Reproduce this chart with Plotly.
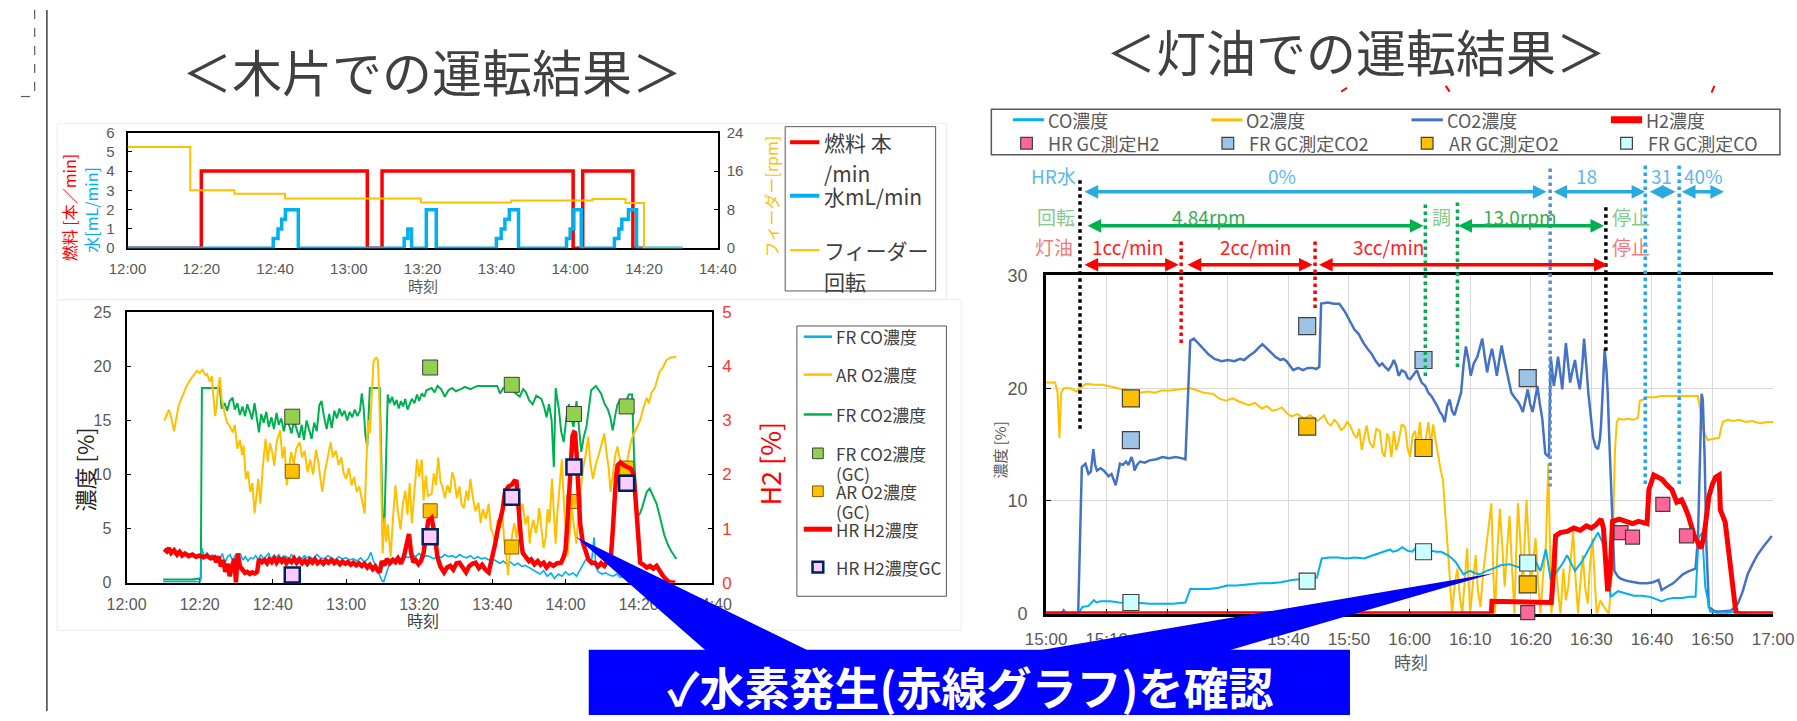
import plotly.graph_objects as go

W, H = 1797, 721


def px(x):
    """pixel column -> paper x"""
    return x / W


def py(y):
    """pixel row -> paper y"""
    return 1 - y / H


# ---------------- wood-chip run (minutes after 12:00) ----------------
wood_tickvals = [0, 20, 40, 60, 80, 100, 120, 140, 160]
wood_ticklabels = ["12:00", "12:20", "12:40", "13:00", "13:20", "13:40", "14:00", "14:20", "14:40"]

# step series of the feed panel (value holds until next time)
fuel_t = [0, 20, 65, 69, 120.8, 123.4, 137, 140]
fuel_v = [0, 4, 0, 4, 0, 4, 0, 0]
water_t = [0, 39.5, 40.8, 41.8, 42.8, 46.3, 75.0, 76.0, 77.0, 81.0, 83.7, 100.0, 101.3, 102.3,
           103.5, 106.0, 119.0, 120.0, 121.0, 123.0, 132.0, 133.2, 134.0, 135.8, 138.0, 150.5]
water_v = [0, 0.5, 1.0, 1.5, 2.0, 0, 0.5, 1.0, 0, 2.0, 0, 0.5, 1.0, 1.5,
           2.0, 0, 0.5, 1.0, 2.0, 0, 0.5, 1.0, 1.5, 2.0, 0, 0]
feeder_t = [0, 17, 29, 42.7, 79.5, 104, 126, 135, 140, 150.5]
feeder_v = [21, 12, 11.3, 10.3, 9.5, 9.9, 10.2, 9.4, 0, 0]

# gas concentrations [%] (H2 on the right axis)
wood_co = [(10, 0.1), (20.2, 0.1), (20.6, 3.2), (21.3, 2.3), (22.0, 2.8), (22.7, 2.1), (23.4, 2.6), (24.1, 1.9),
           (24.8, 2.5), (25.5, 2.2), (26.2, 2.7), (26.9, 1.8), (27.6, 2.4), (28.3, 2.6), (29.0, 2.0), (29.7, 2.5),
           (30.4, 2.3), (31.1, 2.7), (31.8, 2.1), (32.5, 2.4), (33.2, 2.0), (33.9, 2.3), (34.6, 2.2), (35.3, 2.5),
           (36.0, 2.1), (36.7, 2.6), (37.4, 2.2), (38.1, 2.4), (38.8, 2.7), (39.5, 2.2), (40.2, 2.5), (40.9, 2.3),
           (41.6, 2.6), (42.3, 2.2), (43.0, 2.5), (43.7, 2.4), (44.4, 2.2), (45.1, 2.6), (45.8, 2.3), (46.5, 2.1),
           (47.2, 2.4), (47.9, 2.2), (48.6, 2.5), (49.3, 2.3), (50.0, 2.4), (51.0, 2.2), (52.0, 2.6), (53.0, 2.3),
           (54.0, 2.2), (55.0, 2.5), (56.0, 2.3), (57.0, 2.1), (58.0, 2.4), (59.0, 2.2), (60.0, 2.3), (61.0, 2.1),
           (62.0, 2.2), (63.0, 2.0), (64.0, 2.3), (65.0, 1.9), (66.0, 2.2), (66.8, 2.8), (67.5, 2.0), (68.3, 1.4),
           (69.0, 0.8), (69.8, 0.2), (70.3, 0.1), (71.0, 0.9), (71.6, 1.6), (72.3, 2.2), (73.0, 2.0), (74.0, 2.4),
           (75.0, 2.2), (76.0, 2.5), (77.0, 2.3), (78.0, 2.6), (79.0, 2.4), (80.0, 2.7), (81.0, 2.3), (82.0, 2.5),
           (83.0, 2.4), (84.0, 2.2), (85.0, 2.5), (86.0, 2.3), (87.0, 2.6), (88.0, 2.4), (89.0, 2.5), (90.0, 2.3),
           (91.0, 2.6), (92.0, 2.4), (93.0, 2.3), (94.0, 2.5), (95.0, 2.2), (96.0, 2.4), (97.0, 2.2), (98.0, 2.3),
           (99.0, 2.1), (100.0, 2.2), (101.0, 2.0), (102.0, 1.8), (103.0, 2.0), (104.0, 1.7), (105.0, 1.9),
           (106.0, 1.6), (107.0, 1.8), (108.0, 1.5), (109.0, 1.6), (110.0, 1.4), (111.0, 1.2), (112.0, 1.0),
           (113.0, 0.8), (114.0, 1.1), (115.0, 0.6), (116.0, 0.9), (117.0, 0.4), (118.0, 0.8), (119.0, 0.6),
           (120.0, 1.0), (121.0, 0.7), (122.0, 0.9), (123.0, 0.6), (124.0, 1.2), (125.0, 1.8), (126.0, 2.4),
           (127.0, 1.6), (127.8, 4.2), (128.3, 1.4), (129.0, 1.0), (130.0, 0.8), (131.0, 0.9), (132.0, 0.7),
           (133.0, 0.6), (134.0, 0.8), (135.0, 0.5), (136.0, 0.6)]

wood_o2 = [(10.3, 15.0), (11.0, 15.6), (11.6, 16.0), (12.2, 15.3), (13.0, 14.0), (13.6, 15.2), (14.2, 16.3),
           (14.7, 16.8), (15.5, 17.5), (16.6, 18.3), (17.5, 18.8), (18.5, 19.2), (19.3, 19.6), (20.0, 19.4),
           (20.8, 19.7), (21.5, 19.2), (22.0, 19.3), (22.8, 18.6), (23.3, 19.1), (23.7, 17.4), (24.2, 15.4),
           (24.6, 16.2), (25.0, 18.0), (25.5, 19.0), (26.0, 17.0), (26.8, 15.7), (27.5, 14.8), (28.2, 14.5),
           (29.0, 13.9), (29.6, 14.6), (30.3, 12.4), (31.0, 13.2), (31.6, 11.8), (32.0, 12.7), (32.6, 9.6),
           (33.2, 10.3), (33.8, 8.4), (34.4, 9.2), (35.0, 6.4), (35.5, 8.0), (36.0, 9.6), (36.6, 7.3),
           (37.2, 10.5), (38.0, 13.3), (38.6, 11.2), (39.2, 12.9), (39.8, 12.1), (40.4, 10.8), (41.0, 13.0),
           (42.0, 14.1), (42.6, 11.5), (43.2, 12.6), (43.8, 9.0), (44.4, 10.6), (45.0, 12.1), (45.7, 11.0),
           (46.4, 12.4), (47.3, 13.0), (48.0, 11.6), (48.7, 12.2), (49.5, 10.2), (50.2, 11.4), (51.0, 10.0),
           (51.8, 12.3), (52.5, 11.0), (53.0, 9.6), (53.5, 8.4), (54.2, 10.2), (55.0, 11.8), (55.8, 13.0),
           (56.4, 11.6), (57.2, 12.2), (58.0, 10.9), (58.7, 11.6), (59.3, 10.2), (60.0, 9.6), (60.8, 10.6),
           (61.5, 9.0), (62.2, 9.8), (62.9, 8.4), (63.6, 8.9), (64.3, 7.6), (65.1, 6.4), (65.5, 10.5),
           (66.0, 15.0), (66.5, 13.8), (67.0, 17.0), (67.5, 20.4), (67.8, 20.7), (68.3, 20.8), (68.7, 20.6),
           (69.1, 17.0), (69.5, 11.4), (70.0, 2.7), (70.5, 6.0), (71.0, 3.8), (71.4, 5.4), (71.8, 4.0),
           (72.2, 2.4), (72.8, 5.8), (73.5, 9.0), (74.2, 6.5), (74.9, 4.9), (75.5, 7.2), (76.2, 8.5),
           (76.8, 6.3), (77.4, 9.2), (78.0, 5.5), (78.7, 8.8), (79.4, 11.4), (80.0, 9.8), (80.7, 11.4),
           (81.2, 7.6), (81.8, 9.9), (82.4, 8.0), (83.4, 8.2), (84.0, 10.1), (84.6, 9.0), (85.2, 11.6),
           (85.8, 9.4), (86.4, 8.8), (87.0, 7.8), (87.7, 9.0), (88.4, 8.3), (89.0, 10.2), (89.6, 9.6),
           (90.3, 7.8), (91.0, 8.9), (91.6, 7.2), (92.2, 6.9), (92.9, 8.5), (93.4, 7.6), (94.0, 9.6),
           (94.7, 7.8), (95.4, 6.6), (96.2, 7.4), (96.8, 5.5), (97.4, 6.8), (98.2, 5.9), (99.0, 7.3),
           (99.6, 5.0), (100.2, 4.5), (100.8, 3.6), (101.4, 5.8), (102.0, 5.2), (102.6, 6.9), (103.2, 4.0),
           (103.8, 2.6), (104.3, 0.7), (104.9, 3.2), (105.5, 4.6), (106.0, 5.5), (106.6, 4.1), (107.3, 6.5),
           (108.3, 7.3), (109.0, 5.4), (109.7, 6.2), (110.2, 3.6), (110.6, 4.9), (111.2, 5.8), (111.9, 4.6),
           (112.4, 5.5), (112.8, 6.9), (113.4, 5.2), (114.0, 3.2), (114.6, 4.2), (115.1, 6.8), (115.6, 5.5),
           (116.3, 9.6), (116.9, 6.0), (117.3, 3.6), (117.8, 6.6), (118.4, 8.9), (119.0, 11.4), (119.6, 7.0),
           (120.0, 4.5), (120.5, 2.4), (121.1, 4.5), (121.7, 6.9), (122.3, 5.2), (123.0, 3.6), (123.6, 6.9),
           (124.3, 9.2), (124.9, 10.8), (125.5, 11.8), (126.2, 13.5), (126.8, 11.0), (127.5, 9.6),
           (128.1, 10.7), (128.7, 11.3), (129.3, 12.1), (130.0, 13.0), (130.6, 13.8), (131.2, 12.0),
           (131.8, 10.6), (132.3, 8.4), (132.9, 10.2), (133.6, 11.8), (134.2, 12.6), (134.8, 11.5),
           (135.4, 10.8), (136.0, 9.6), (136.7, 11.0), (137.3, 12.1), (138.0, 13.2), (138.7, 13.8),
           (139.5, 14.4), (140.4, 15.0), (141.3, 16.2), (142.2, 17.1), (142.8, 16.6), (143.5, 17.6),
           (144.4, 18.0), (145.0, 18.8), (145.7, 19.5), (146.6, 19.9), (147.6, 20.6), (148.6, 20.8),
           (150.3, 20.9)]

wood_co2 = [(10, 0.3), (18, 0.3), (20.3, 0.4), (20.6, 18.0), (25.5, 18.0), (26.0, 16.1), (26.8, 16.6),
            (27.5, 15.9), (28.2, 16.8), (29.0, 17.1), (29.6, 16.0), (30.3, 16.6), (31.0, 15.5), (31.7, 16.3),
            (32.4, 15.4), (33.0, 16.5), (33.7, 15.8), (34.3, 15.1), (35.0, 16.6), (35.6, 15.3), (36.2, 13.9),
            (36.8, 15.6), (37.5, 14.8), (38.2, 15.8), (38.9, 14.4), (39.6, 15.3), (40.3, 14.2), (41.0, 15.7),
            (41.6, 14.6), (42.3, 15.2), (43.0, 14.0), (43.7, 15.1), (44.4, 14.6), (45.1, 13.8), (45.8, 15.0),
            (46.5, 14.2), (47.2, 13.4), (47.9, 14.6), (48.5, 13.2), (49.2, 15.0), (49.9, 14.1), (50.6, 13.3),
            (51.3, 14.8), (52.0, 14.0), (52.7, 16.4), (53.3, 16.8), (54.0, 15.3), (54.7, 14.2), (55.4, 15.6),
            (56.1, 14.3), (56.8, 15.9), (57.5, 15.2), (58.2, 16.1), (58.9, 15.4), (59.6, 15.9), (60.3, 15.0),
            (61.0, 15.8), (61.7, 15.3), (62.4, 16.0), (63.1, 15.4), (63.8, 15.9), (64.3, 17.5), (64.8, 16.2),
            (65.3, 13.6), (65.8, 12.6), (66.2, 15.8), (66.5, 18.0), (69.2, 18.0), (69.6, 12.0), (70.0, 6.1),
            (70.5, 5.5), (71.0, 12.0), (71.4, 17.4), (72.0, 16.6), (72.6, 17.2), (73.2, 16.4), (73.8, 16.9),
            (74.4, 16.1), (75.0, 16.8), (75.6, 16.3), (76.2, 17.0), (76.8, 16.0), (77.4, 16.6), (78.0, 17.0),
            (78.7, 16.6), (79.4, 17.4), (80.0, 16.8), (80.7, 17.5), (81.4, 17.2), (82.0, 17.8), (83.4, 18.0),
            (84.2, 17.6), (85.0, 18.2), (86.0, 17.9), (87.0, 17.2), (88.0, 17.8), (89.0, 18.0), (90.0, 17.7),
            (91.4, 17.9), (92.5, 18.1), (94.0, 17.9), (95.9, 18.2), (98.0, 18.2), (100.0, 18.2), (101.3, 18.2),
            (102.1, 17.5), (103.0, 18.0), (104.8, 18.3), (106.0, 17.6), (107.5, 17.2), (108.4, 17.9),
            (109.2, 17.6), (110.0, 16.9), (111.0, 16.5), (112.0, 17.3), (113.4, 17.0), (114.2, 16.2),
            (114.8, 15.3), (115.5, 16.5), (116.2, 15.0), (116.8, 10.7), (117.3, 18.0), (118.2, 16.0),
            (118.8, 14.0), (119.5, 13.0), (120.2, 15.2), (120.9, 16.5), (121.5, 15.3), (122.2, 14.4),
            (123.0, 16.8), (123.6, 14.5), (124.3, 12.1), (125.0, 13.5), (125.7, 14.4), (126.4, 16.2),
            (127.0, 17.8), (128.3, 18.2), (129.0, 17.9), (129.7, 17.5), (130.6, 16.6), (131.6, 16.0),
            (132.3, 15.2), (132.9, 14.1), (133.6, 15.5), (134.2, 16.5), (135.0, 16.9), (136.0, 16.2),
            (136.8, 17.0), (137.3, 17.4), (138.2, 17.4), (138.7, 12.0), (139.6, 6.1), (140.2, 6.3),
            (140.9, 6.9), (141.6, 7.8), (142.2, 8.4), (143.0, 8.7), (144.0, 8.0), (144.9, 7.3), (146.0, 5.8),
            (147.0, 4.4), (148.0, 3.5), (148.9, 2.9), (150.3, 2.2)]

wood_h2 = [(10.3, 0.62), (11.0, 0.58), (11.6, 0.64), (12.2, 0.55), (13.0, 0.60), (13.8, 0.52), (14.5, 0.57),
           (15.2, 0.50), (16.0, 0.54), (17.0, 0.49), (18.0, 0.52), (19.0, 0.48), (20.0, 0.50), (21.0, 0.47),
           (22.0, 0.50), (23.0, 0.45), (24.0, 0.47), (24.6, 0.38), (25.2, 0.48), (25.8, 0.30), (26.4, 0.42),
           (27.0, 0.20), (27.6, 0.35), (28.2, 0.12), (28.8, 0.30), (29.5, 0.44), (29.9, 0.00), (30.4, 0.54),
           (31.0, 0.30), (31.7, 0.22), (32.4, 0.18), (33.0, 0.20), (33.7, 0.16), (34.4, 0.19), (35.1, 0.17),
           (35.7, 0.20), (36.2, 0.43), (37.0, 0.38), (37.7, 0.42), (38.4, 0.36), (39.0, 0.43), (39.7, 0.38),
           (40.4, 0.45), (41.0, 0.37), (41.7, 0.44), (42.4, 0.39), (43.0, 0.46), (43.7, 0.36), (44.4, 0.42),
           (45.1, 0.38), (45.8, 0.45), (46.5, 0.37), (47.2, 0.43), (48.0, 0.36), (48.7, 0.41), (49.4, 0.35),
           (50.1, 0.42), (50.8, 0.37), (51.5, 0.43), (52.2, 0.36), (53.0, 0.40), (53.8, 0.35), (54.5, 0.41),
           (55.2, 0.37), (56.0, 0.42), (56.8, 0.36), (57.5, 0.40), (58.3, 0.34), (59.0, 0.39), (59.8, 0.35),
           (60.5, 0.38), (61.3, 0.33), (62.0, 0.37), (62.8, 0.32), (63.5, 0.36), (64.3, 0.31), (65.0, 0.35),
           (65.8, 0.28), (66.5, 0.33), (67.3, 0.25), (68.0, 0.30), (68.7, 0.22), (69.2, 0.19), (69.8, 0.40),
           (70.5, 0.32), (71.2, 0.44), (72.0, 0.36), (72.8, 0.42), (73.5, 0.38), (74.2, 0.45), (75.0, 0.35),
           (75.8, 0.48), (76.5, 0.70), (77.2, 0.90), (77.8, 0.55), (78.4, 0.38), (79.0, 0.42), (79.8, 0.34),
           (80.5, 0.40), (81.2, 0.55), (81.8, 0.85), (82.5, 1.15), (83.4, 1.20), (84.2, 0.90), (85.0, 0.47),
           (85.8, 0.30), (86.8, 0.19), (87.6, 0.28), (88.5, 0.31), (89.3, 0.24), (90.2, 0.36), (91.0, 0.37),
           (91.9, 0.28), (92.8, 0.19), (93.6, 0.30), (94.5, 0.35), (95.4, 0.37), (96.3, 0.27), (97.2, 0.33),
           (98.1, 0.24), (99.0, 0.19), (99.8, 0.40), (100.8, 0.73), (101.4, 0.95), (102.0, 1.09), (102.8, 1.35),
           (103.5, 1.69), (104.4, 1.78), (105.3, 1.81), (106.0, 1.88), (106.6, 1.87), (107.0, 1.50),
           (107.4, 1.09), (107.9, 0.75), (108.3, 0.55), (109.2, 0.47), (110.0, 0.40), (110.6, 0.43),
           (111.5, 0.34), (112.4, 0.40), (113.2, 0.33), (114.0, 0.37), (114.8, 0.28), (115.7, 0.35),
           (116.7, 0.31), (117.7, 0.36), (118.8, 0.37), (119.5, 0.48), (120.0, 0.61), (120.5, 1.10),
           (121.0, 1.69), (121.5, 2.30), (121.9, 2.71), (122.3, 2.78), (122.6, 2.77), (123.0, 2.40),
           (123.2, 2.17), (123.6, 1.60), (124.0, 1.09), (124.7, 0.75), (125.5, 0.55), (126.3, 0.42),
           (127.2, 0.37), (128.0, 0.37), (128.9, 0.30), (129.7, 0.36), (130.6, 0.31), (131.5, 0.40),
           (132.4, 0.49), (132.9, 0.95), (133.3, 1.57), (133.8, 1.95), (134.2, 2.17), (135.0, 2.22),
           (136.0, 2.17), (136.9, 2.14), (137.8, 2.11), (138.3, 2.05), (138.7, 1.93), (139.2, 1.50),
           (139.6, 1.09), (140.0, 0.60), (140.4, 0.37), (141.3, 0.33), (142.2, 0.28), (143.1, 0.31),
           (144.0, 0.26), (144.9, 0.31), (145.8, 0.20), (146.6, 0.13), (147.5, 0.06), (148.4, 0.01),
           (150.0, 0.0)]

# GC samples
wood_gc_t = [45.3, 83.0, 105.3, 122.3, 136.7]
wood_gc_co2 = [15.35, 19.9, 18.3, 15.6, 16.3]
wood_gc_o2 = [10.3, 6.65, 3.3, 7.5, 10.6]
wood_gc_h2 = [0.14, 0.85, 1.58, 2.14, 1.84]

# ---------------- kerosene run (minutes after 15:00) ----------------
kero_tickvals = [0, 10, 20, 30, 40, 50, 60, 70, 80, 90, 100, 110, 120]
kero_ticklabels = ["15:00", "15:10", "15:20", "15:30", "15:40", "15:50", "16:00",
                   "16:10", "16:20", "16:30", "16:40", "16:50", "17:00"]

kero_co = [(0, 0), (5.3, 0), (6.0, 0.6), (7.0, 0.7), (7.9, 1.2), (8.3, 1.0), (9.0, 1.1), (10.6, 1.1),
           (12.0, 1.0), (13.9, 1.0), (15.5, 0.95), (17.1, 0.9), (19.0, 0.9), (21.0, 0.9), (23.0, 1.0),
           (23.8, 2.2), (25.0, 2.2), (26.8, 2.2), (28.5, 2.3), (29.9, 2.5), (31.5, 2.5), (33.5, 2.6),
           (35.3, 2.7), (37.0, 2.7), (38.8, 2.8), (40.6, 3.0), (42.5, 3.1), (44.7, 3.2), (45.5, 4.9),
           (46.8, 5.0), (48.2, 5.0), (49.5, 4.9), (51.0, 5.0), (52.5, 4.9), (53.5, 5.1), (54.6, 5.3),
           (55.7, 5.5), (56.8, 5.7), (57.2, 5.5), (58.0, 5.6), (58.8, 5.9), (59.6, 5.6), (60.4, 5.5),
           (61.0, 5.8), (61.7, 5.7), (62.5, 5.5), (63.5, 5.6), (64.4, 5.5), (65.2, 5.5), (66.3, 5.2),
           (67.0, 4.9), (67.6, 4.6), (68.3, 4.0), (68.9, 3.5), (69.5, 3.7), (70.0, 3.8), (70.8, 3.6),
           (71.6, 3.5), (72.7, 3.8), (73.8, 4.0), (75.0, 4.3), (76.5, 4.4), (77.6, 4.2), (78.7, 4.0),
           (79.5, 4.5), (80.3, 5.2), (80.8, 4.6), (81.6, 3.8), (82.5, 5.7), (83.3, 3.0), (84.4, 3.8),
           (85.2, 4.4), (86.0, 5.2), (86.6, 4.5), (87.3, 3.8), (88.4, 4.6), (89.5, 5.7), (90.3, 6.4),
           (91.1, 7.2), (91.7, 6.5), (92.2, 5.7), (92.7, 3.5), (93.2, 1.5), (94.4, 2.0), (95.7, 1.8),
           (97.0, 1.6), (98.3, 1.6), (99.7, 1.5), (100.7, 1.3), (101.6, 1.1), (102.5, 1.3), (103.5, 1.4),
           (105.0, 1.4), (106.2, 1.5), (107.2, 1.5), (107.7, 6.7), (108.3, 7.2), (108.8, 2.4), (109.6, 0.2),
           (111.5, 0.0), (114.2, 0.2), (115.5, 0.0)]

kero_o2 = [(0, 20.5), (1.5, 20.5), (1.9, 19.6), (2.2, 15.6), (2.5, 19.6), (2.9, 20.0), (4.0, 20.0), (5.0, 19.7),
           (5.6, 20.0), (6.6, 20.4), (8.0, 20.3), (9.3, 20.3), (11.0, 20.1), (12.5, 19.9), (14.0, 19.8),
           (15.5, 19.6), (16.8, 19.7), (18.0, 19.6), (19.0, 19.8), (20.5, 19.8), (22.2, 19.9), (23.9, 20.0),
           (25.0, 19.8), (26.0, 19.6), (27.6, 19.5), (28.5, 19.1), (29.7, 18.9), (30.8, 19.1), (31.9, 18.8),
           (33.5, 18.5), (34.5, 18.7), (35.6, 18.2), (36.5, 18.4), (37.3, 18.0), (38.2, 18.1), (38.9, 18.3),
           (39.7, 17.8), (40.5, 17.5), (41.5, 17.7), (42.6, 17.3), (43.6, 17.6), (44.8, 17.1), (45.9, 17.6),
           (46.5, 16.9), (47.0, 16.7), (47.6, 17.2), (48.1, 16.9), (48.7, 16.3), (49.2, 16.5), (49.7, 17.0),
           (50.2, 16.7), (50.8, 15.9), (51.3, 15.6), (51.7, 16.4), (52.1, 14.5), (52.5, 15.8), (52.9, 16.7),
           (53.4, 15.2), (54.0, 14.7), (54.5, 16.4), (55.1, 16.2), (55.5, 14.3), (55.9, 13.9), (56.3, 16.0),
           (56.6, 15.6), (57.0, 13.9), (57.4, 16.2), (57.8, 14.5), (58.2, 15.3), (58.7, 16.8), (59.3, 16.5),
           (59.7, 14.6), (60.1, 13.9), (60.5, 15.8), (60.9, 16.2), (61.3, 14.8), (61.7, 17.0), (62.0, 15.2),
           (62.3, 13.9), (62.7, 15.6), (63.1, 17.0), (63.5, 15.0), (63.9, 16.8), (64.3, 15.4), (64.7, 13.9),
           (65.1, 12.8), (65.5, 11.9), (65.8, 9.8), (66.1, 7.5), (66.4, 5.2), (66.6, 3.5), (67.0, 0.0),
           (67.5, 2.8), (67.9, 4.0), (68.3, 1.5), (68.7, 0.0), (69.1, 3.2), (69.5, 5.8), (70.0, 0.0),
           (70.5, 2.6), (70.9, 5.2), (71.3, 2.0), (71.7, 0.6), (72.1, 3.4), (72.5, 5.2), (73.0, 7.8),
           (73.5, 9.8), (73.8, 4.0), (74.1, 0.0), (74.5, 5.6), (74.9, 9.3), (75.3, 6.0), (75.7, 2.4),
           (76.1, 5.8), (76.5, 8.7), (76.9, 4.2), (77.3, 0.0), (77.6, 5.5), (77.9, 9.8), (78.3, 6.2),
           (78.7, 1.8), (79.0, 6.5), (79.3, 10.1), (79.7, 6.0), (80.0, 2.4), (80.4, 4.6), (80.8, 6.7),
           (81.2, 3.0), (81.6, 0.0), (82.0, 3.2), (82.5, 6.1), (82.9, 13.3), (83.2, 6.0), (83.4, 0.0),
           (83.8, 2.6), (84.1, 5.2), (84.5, 2.0), (84.9, 0.0), (85.4, 4.0), (85.8, 1.2), (86.2, 2.4),
           (86.6, 5.0), (87.0, 7.3), (87.4, 3.1), (87.8, 0.0), (88.2, 2.8), (88.6, 5.2), (89.0, 2.2),
           (89.4, 0.9), (89.8, 4.5), (90.2, 6.7), (90.6, 2.6), (90.9, 0.0), (91.5, 1.2), (92.1, 0.6),
           (92.9, 0.0), (93.3, 3.0), (93.6, 8.0), (93.9, 14.5), (94.2, 17.0), (94.5, 17.3), (95.3, 17.2),
           (96.1, 17.3), (96.9, 17.2), (97.7, 17.4), (98.0, 18.9), (98.6, 19.0), (99.3, 19.2), (100.5, 19.2),
           (101.5, 19.3), (102.5, 19.3), (103.6, 19.3), (104.7, 19.3), (106.0, 19.3), (107.6, 19.3),
           (108.0, 18.0), (108.2, 16.7), (108.7, 16.0), (109.2, 15.4), (110.0, 15.5), (111.1, 15.6),
           (111.4, 16.4), (111.7, 17.0), (112.5, 17.2), (113.5, 17.1), (114.4, 17.2), (115.5, 17.0),
           (116.5, 17.1), (117.0, 17.0), (118.0, 16.9), (119.0, 17.0), (120.0, 17.0)]

kero_co2 = [(0, 0), (2.5, 0), (2.9, 0.3), (3.3, 0), (5.3, 0), (5.9, 13.0), (6.5, 13.3), (7.0, 12.4), (7.4, 12.6),
            (7.8, 14.6), (8.1, 13.2), (8.4, 12.7), (9.0, 12.9), (9.5, 12.7), (10.0, 12.4), (10.3, 12.2),
            (10.8, 12.4), (11.2, 11.8), (11.5, 11.4), (11.9, 12.5), (12.2, 13.3), (12.7, 13.2), (13.2, 13.5),
            (13.6, 13.2), (14.1, 13.9), (14.4, 13.4), (14.6, 12.7), (15.0, 13.2), (15.5, 13.5), (16.3, 13.4),
            (17.1, 13.6), (18.2, 13.7), (19.2, 13.9), (20.3, 13.8), (21.4, 13.9), (22.3, 13.8), (23.0, 13.7),
            (23.4, 19.0), (23.8, 24.2), (24.4, 24.4), (25.2, 23.9), (26.0, 23.5), (26.8, 23.0), (27.8, 22.6),
            (29.0, 22.4), (30.0, 22.5), (31.1, 22.4), (32.0, 22.6), (32.7, 22.5), (33.6, 22.9), (34.4, 23.2),
            (35.1, 23.6), (35.7, 23.9), (36.3, 23.6), (37.0, 23.2), (37.8, 22.8), (38.7, 22.5), (39.2, 22.6),
            (39.7, 22.4), (40.3, 22.0), (40.8, 21.6), (41.6, 21.8), (42.4, 21.6), (43.2, 21.8), (44.0, 21.8),
            (44.6, 21.7), (45.1, 21.9), (45.4, 27.5), (46.5, 27.6), (47.5, 27.5), (48.4, 27.5), (49.3, 26.8),
            (50.2, 25.9), (50.9, 25.2), (51.6, 24.8), (52.4, 24.0), (53.2, 23.4), (53.8, 23.0), (54.3, 22.5),
            (55.0, 22.0), (55.5, 22.2), (55.9, 21.9), (56.5, 21.6), (57.0, 22.0), (57.4, 22.5), (57.8, 22.0),
            (58.2, 21.1), (58.7, 21.6), (59.3, 21.4), (59.7, 20.9), (60.1, 20.8), (60.6, 21.2), (61.2, 21.6),
            (61.6, 21.0), (62.0, 20.5), (62.6, 20.2), (63.1, 19.6), (63.6, 19.3), (64.2, 18.8), (64.6, 18.4),
            (65.0, 17.9), (65.4, 17.6), (65.8, 17.0), (66.2, 18.4), (66.6, 19.0), (67.0, 18.0), (67.4, 17.6),
            (68.0, 18.8), (68.5, 19.6), (68.9, 22.0), (69.3, 23.7), (69.7, 22.6), (70.1, 21.1), (70.6, 22.2),
            (71.2, 22.8), (71.6, 23.6), (72.0, 24.4), (72.4, 22.8), (72.8, 21.4), (73.2, 22.6), (73.6, 23.5),
            (74.0, 22.4), (74.4, 21.1), (74.8, 22.5), (75.2, 23.8), (75.6, 22.6), (76.0, 21.6), (76.4, 20.5),
            (76.8, 19.6), (77.3, 19.2), (77.9, 18.8), (78.3, 18.4), (78.7, 17.9), (79.1, 18.9), (79.5, 19.9),
            (79.9, 18.6), (80.3, 17.9), (80.7, 19.0), (81.1, 20.2), (81.5, 18.6), (81.9, 17.3), (82.4, 14.2),
            (83.0, 13.9), (83.3, 22.8), (83.8, 20.2), (84.2, 21.5), (84.5, 22.8), (84.9, 21.2), (85.2, 19.9),
            (85.5, 22.0), (85.8, 24.0), (86.2, 22.0), (86.5, 20.5), (86.9, 21.6), (87.3, 22.5), (87.7, 21.0),
            (88.1, 19.9), (88.5, 22.0), (88.8, 24.4), (89.2, 21.8), (89.5, 19.6), (89.9, 17.6), (90.3, 15.6),
            (90.7, 14.8), (91.1, 14.6), (91.4, 15.4), (91.6, 16.7), (91.9, 20.0), (92.2, 23.5), (92.5, 21.6),
            (92.7, 19.6), (93.0, 15.0), (93.3, 11.0), (93.6, 6.0), (93.8, 3.8), (94.4, 3.3), (94.9, 3.1),
            (96.0, 2.9), (97.0, 2.8), (98.0, 2.7), (99.2, 2.7), (100.2, 2.8), (101.1, 3.0), (101.6, 2.1),
            (102.5, 2.4), (103.5, 2.7), (104.3, 3.1), (105.1, 3.5), (106.2, 3.8), (107.2, 4.0), (107.6, 6.7),
            (107.9, 13.0), (108.2, 19.5), (108.4, 19.0), (108.7, 13.9), (109.0, 6.0), (109.4, 0.6),
            (110.4, 0.2), (111.5, 0.2), (113.1, 0.3), (114.2, 0.9), (115.0, 2.0), (115.8, 3.5), (116.6, 4.4),
            (117.4, 5.2), (118.6, 6.1), (119.8, 6.9)]

kero_h2 = [(0, 0), (73.5, 0), (73.6, 1.1), (78, 1.05), (83.4, 1.0), (83.8, 4.0), (84.1, 6.9), (84.9, 7.2),
           (86.0, 7.3), (87.1, 7.6), (88.2, 7.4), (89.2, 7.8), (90.0, 7.6), (90.8, 7.9), (91.6, 8.4), (92.0, 7.6),
           (92.5, 3.6), (92.7, 2.0), (93.1, 3.6), (93.5, 8.2), (94.6, 8.4), (95.7, 8.2), (96.8, 8.0), (97.8, 8.2),
           (98.8, 8.0), (99.2, 8.0), (99.5, 11.0), (100.3, 12.3), (101.0, 12.1), (101.7, 11.9), (102.5, 11.4),
           (103.3, 11.0), (104.1, 9.9), (104.9, 10.1), (105.5, 9.4), (106.0, 8.7), (107.0, 6.9), (108.1, 5.8),
           (108.6, 6.9), (109.4, 10.4), (110.0, 11.5), (110.5, 12.1), (111.1, 12.3), (111.3, 9.2), (112.1, 8.1),
           (113.0, 3.6), (113.8, 0.4), (114.0, 0.0), (120, 0.0)]

kero_gc_h2_t = [79.5, 94.9, 96.8, 101.8, 105.7]
kero_gc_h2 = [0.1, 7.2, 6.8, 9.7, 6.9]
kero_gc_t = [14.0, 43.1, 62.3, 79.5]
kero_gc_co2 = [15.4, 25.5, 22.5, 20.9]
kero_gc_o2 = [19.1, 16.6, 14.7, 2.6]
kero_gc_co = [1.0, 2.9, 5.5, 4.5]

# operating periods above the kerosene chart: (start, end) in minutes after 15:00
water_periods = [(6.1, 82.6), (83.5, 98.9), (99.4, 103.9), (104.7, 111.9)]
water_labels = [("0%", 38.9), ("18", 89.2), ("31", 101.5), ("40%", 108.5)]
rotation_periods = [(6.6, 62.3), (67.8, 92.1)]
rotation_labels = [("4.84rpm", 26.9), ("調", 65.2), ("13.0rpm", 78.2), ("停止", 96.5)]
kerosene_periods = [(6.1, 21.9), (23.1, 44.0), (44.8, 92.7)]
kerosene_labels = [("1cc/min", 13.5), ("2cc/min", 34.5), ("3cc/min", 56.6), ("停止", 96.5)]
# switching moments: (time, colour, top px, bottom px)
switch_marks = [(5.6, "#000000", 175, 433), (22.3, "#FF0000", 238, 345), (44.4, "#FF0000", 238, 308),
                (62.6, "#00B050", 200, 377), (67.9, "#00B050", 198, 368), (83.2, "#5B8FD0", 163, 490),
                (92.4, "#000000", 203, 352), (98.9, "#1EAAF1", 160, 490), (104.5, "#1EAAF1", 160, 490)]


def unzip(pairs):
    return [p[0] for p in pairs], [p[1] for p in pairs]


fig = go.Figure()

# ---- feed panel ----
fig.add_trace(go.Scatter(x=fuel_t, y=fuel_v, mode="lines", line=dict(color="#FF0000", width=3.5, shape="hv"),
                         xaxis="x", yaxis="y"))
fig.add_trace(go.Scatter(x=water_t, y=water_v, mode="lines", line=dict(color="#00B0F0", width=3.5, shape="hv"),
                         xaxis="x", yaxis="y"))
fig.add_trace(go.Scatter(x=feeder_t, y=feeder_v, mode="lines", line=dict(color="#FFC000", width=2, shape="hv"),
                         xaxis="x", yaxis="y2"))

# ---- wood-chip gas panel ----
for pairs, color, width in [(wood_co2, "#00B050", 2), (wood_co, "#00B0F0", 1.6), (wood_o2, "#FFC000", 2)]:
    t, v = unzip(pairs)
    fig.add_trace(go.Scatter(x=t, y=v, mode="lines", line=dict(color=color, width=width),
                             xaxis="x2", yaxis="y3"))
fig.add_trace(go.Scatter(x=wood_gc_t, y=wood_gc_co2, mode="markers", xaxis="x2", yaxis="y3", cliponaxis=False,
                         marker=dict(symbol="square", size=15, color="#92D050", line=dict(color="#3F3F3F", width=1))))
fig.add_trace(go.Scatter(x=wood_gc_t, y=wood_gc_o2, mode="markers", xaxis="x2", yaxis="y3", cliponaxis=False,
                         marker=dict(symbol="square", size=14, color="#FFC000", line=dict(color="#7F6000", width=1))))
t, v = unzip(wood_h2)
fig.add_trace(go.Scatter(x=t, y=v, mode="lines", line=dict(color="#FF0000", width=4.5),
                         xaxis="x2", yaxis="y4"))
fig.add_trace(go.Scatter(x=wood_gc_t, y=wood_gc_h2, mode="markers", xaxis="x2", yaxis="y4", cliponaxis=False,
                         marker=dict(symbol="square", size=15, color="#FFCCFF", line=dict(color="#002060", width=2.5))))

# ---- kerosene panel ----
for pairs, color, width in [(kero_o2, "#FFC000", 2), (kero_co2, "#4472C4", 2.5), (kero_co, "#00B0F0", 2),
                            (kero_h2, "#FF0000", 5)]:
    t, v = unzip(pairs)
    fig.add_trace(go.Scatter(x=t, y=v, mode="lines", line=dict(color=color, width=width),
                             xaxis="x3", yaxis="y5"))
for tt, vv, color, size in [(kero_gc_t, kero_gc_co2, "#9DC3E6", 17), (kero_gc_t, kero_gc_o2, "#FFC000", 17),
                            (kero_gc_t, kero_gc_co, "#CCFFFF", 16), (kero_gc_h2_t, kero_gc_h2, "#FF6699", 14)]:
    fig.add_trace(go.Scatter(x=tt, y=vv, mode="markers", xaxis="x3", yaxis="y5", cliponaxis=False,
                             marker=dict(symbol="square", size=size, color=color,
                                         line=dict(color="#404040", width=1.2))))

GRAY = "#595959"
TICKFAMILY = "Liberation Sans, Noto Sans CJK JP, sans-serif"


def xax(domain, anchor, rng, vals, labels, size, lw, **kw):
    d = dict(domain=domain, anchor=anchor, range=rng, tickvals=vals, ticktext=labels,
             showline=True, mirror=True, linecolor="black", linewidth=lw, zeroline=False,
             showgrid=False, tickfont=dict(size=size, color=GRAY, family=TICKFAMILY),
             layer="below traces", fixedrange=True)
    d.update(kw)
    return d


def yax(domain, anchor, rng, dtick, size, lw, color=GRAY, **kw):
    d = dict(domain=domain, anchor=anchor, range=rng, dtick=dtick, showline=True, linecolor="black",
             linewidth=lw, zeroline=False, showgrid=False, ticks="inside", ticklen=4, tickcolor="black",
             tickfont=dict(size=size, color=color, family=TICKFAMILY), layer="below traces", fixedrange=True)
    d.update(kw)
    return d


fig.update_layout(
    width=W, height=H, margin=dict(l=0, r=0, t=0, b=0), showlegend=False,
    paper_bgcolor="white", plot_bgcolor="white",
    font=dict(family="Noto Sans CJK JP, Liberation Sans, sans-serif", color=GRAY),
    xaxis=xax([px(109), px(713)], "y", [0, 160], wood_tickvals, wood_ticklabels, 15, 2, ticklabelstandoff=6),
    yaxis=yax([py(245), py(126)], "x", [0, 6], 1, 15, 2, ticklabelstandoff=8),
    yaxis2=yax([py(245), py(126)], "x", [0, 24], 8, 15, 2, overlaying="y", side="right", ticklabelstandoff=4),
    xaxis2=xax([px(108), px(707)], "y3", [0, 160], wood_tickvals, wood_ticklabels, 16, 2,
               ticks="inside", ticklen=4, tickcolor="black", ticklabelstandoff=6),
    yaxis3=yax([py(589), py(311)], "x2", [0, 25], 5, 16, 2, ticklabelstandoff=10),
    yaxis4=yax([py(589), py(311)], "x2", [0, 5], 1, 17, 2, color="#FF3333", overlaying="y3", side="right",
               ticklabelstandoff=5),
    xaxis3=xax([px(1049), px(1793)], "y5", [0, 120], kero_tickvals, kero_ticklabels, 17, 3,
               showgrid=True, gridcolor="#D9D9D9", gridwidth=1, ticks="inside", ticklen=5, tickcolor="black",
               ticklabelstandoff=8),
    yaxis5=yax([py(621), py(273)], "x3", [0, 30], 10, 18, 3, showgrid=True, gridcolor="#D9D9D9",
               ticklen=5, ticklabelstandoff=12),
)

shapes = []
ann = []


def text(x, y, s, size, color, xanchor="center", angle=0, family=None, **kw):
    f = dict(size=size, color=color)
    if family:
        f["family"] = family
    a = dict(x=px(x), y=py(y), xref="paper", yref="paper", text=s, showarrow=False, font=f,
             xanchor=xanchor, yanchor="middle", textangle=angle)
    a.update(kw)
    ann.append(a)


def hline(x0, x1, y, color, width, dash=None):
    ln = dict(color=color, width=width)
    if dash:
        ln["dash"] = dash
    shapes.append(dict(type="line", xref="paper", yref="paper", x0=px(x0), x1=px(x1), y0=py(y), y1=py(y), line=ln))


def box(x0, y0, x1, y1, line_color, fill="rgba(0,0,0,0)", width=1):
    shapes.append(dict(type="rect", xref="paper", yref="paper", x0=px(x0), x1=px(x1), y0=py(y1), y1=py(y0),
                       line=dict(color=line_color, width=width), fillcolor=fill))


# slide frame lines
shapes.append(dict(type="line", xref="paper", yref="paper", x0=px(26.5), x1=px(26.5), y0=0, y1=1,
                   line=dict(color="#404040", width=1.5)))
shapes.append(dict(type="line", xref="paper", yref="paper", x0=px(14), x1=px(14), y0=py(0), y1=py(89),
                   line=dict(color="#595959", width=1.2, dash="dash")))
hline(0, 14, 89, "#595959", 1.2, "dash")

# faint chart-area frames
box(37, 117, 947, 298, "#EDEDED")
box(37, 298, 962, 638, "#EDEDED")

# titles
TITLE_FONT = "Noto Sans CJK JP, sans-serif"
text(421, 62, "＜木片での運転結果＞", 50, "#404040", family=TITLE_FONT)
text(1366, 41, "＜灯油での運転結果＞", 50, "#404040", family=TITLE_FONT)
for (x0, y0, x1, y1) in [(1351, 84, 1357, 80), (1458, 78, 1462, 84), (1733, 78, 1730, 85)]:
    shapes.append(dict(type="line", xref="paper", yref="paper", x0=px(x0), x1=px(x1), y0=py(y0), y1=py(y1),
                       line=dict(color="#FF0000", width=2)))

# ---- feed panel titles and legend ----
text(50, 203, "燃料 [本／min]", 16, "#FF0000", angle=-90)
text(72, 205, "水[mL/min]", 16, "#00B0F0", angle=-90)
text(767, 192, "フィーダー[rpm]", 16, "#FFC000", angle=-90)
text(411, 283, "時刻", 15, GRAY)
box(782, 120, 936, 289, "#595959")
top_legend = [("#FF0000", 4, 136, ["燃料 本", "/min"]), ("#00B0F0", 4, 191, ["水mL/min"]),
              ("#FFC000", 2, 247, ["フィーダー", "回転"])]
for color, lw, y, lines in top_legend:
    hline(787, 817, y, color, lw)
    for i, s in enumerate(lines):
        text(820, y + i * 32, s, 21, "#404040", xanchor="left")

# ---- wood-chip gas panel titles and legend ----
text(64, 473, "濃度 [%]", 22, "#262626", angle=-90)
text(765, 467, "H2 [%]", 27, "#FF0000", angle=-90)
text(411, 627, "時刻", 16, "#404040")
box(794, 325, 947, 603, "#595959")
mid_legend_lines = [("#00B0F0", 2.5, 336, ["FR CO濃度"]), ("#FFC000", 2.5, 375, ["AR O2濃度"]),
                    ("#00B050", 2.5, 416, ["FR CO2濃度"]), ("#FF0000", 5, 534, ["HR H2濃度"])]
for color, lw, y, lines in mid_legend_lines:
    hline(801, 830, y, color, lw)
    text(832, y, lines[0], 17, "#404040", xanchor="left")
mid_legend_marks = [("#92D050", "#3F3F3F", 1, 456, ["FR CO2濃度", "(GC)"]),
                    ("#FFC000", "#7F6000", 1, 495, ["AR O2濃度", "(GC)"]),
                    ("#FFCCFF", "#002060", 2.5, 573, ["HR H2濃度GC"])]
for fill, edge, ew, y, lines in mid_legend_marks:
    box(810, y - 5.5, 821, y + 5.5, edge, fill, ew)
    for i, s in enumerate(lines):
        text(832, y + i * 21, s, 17, "#404040", xanchor="left")

# ---- kerosene panel titles and legend ----
text(1001, 453, "濃度 [%]", 15, GRAY, angle=-90)
text(1422, 670, "時刻", 17, GRAY)
box(993, 102, 1800, 149, "#595959", width=1.5)
right_legend_lines = [("#00B0F0", 3, 1015, "CO濃度"), ("#FFC000", 3, 1218, "O2濃度"),
                      ("#4472C4", 3, 1423, "CO2濃度"), ("#FF0000", 7, 1627, "H2濃度")]
for color, lw, x, s in right_legend_lines:
    hline(x, x + 32, 113, color, lw)
    text(x + 34, 113, s, 18, GRAY, xanchor="left")
right_legend_marks = [("#FF6699", 1029, "HR GC測定H2"), ("#9DC3E6", 1235, "FR GC測定CO2"),
                      ("#FFC000", 1439, "AR GC測定O2"), ("#CCFFFF", 1643, "FR GC測定CO")]
for fill, x, s in right_legend_marks:
    box(x - 6, 131, x + 6, 143, "#404040", fill, 1.2)
    text(x + 20, 137, s, 18, GRAY, xanchor="left")


# ---- operating-condition arrows above the kerosene chart ----
def period_arrow(t0, t1, y, color):
    ann.append(dict(x=t1, y=py(y), xref="x3", yref="paper", ax=t0, ay=0, axref="x3", ayref="pixel",
                    text="", showarrow=True, arrowside="end+start", arrowhead=2, startarrowhead=2,
                    arrowsize=0.78, startarrowsize=0.78, arrowwidth=3.5, arrowcolor=color))


def period_text(t, y, s, color, size=19):
    ann.append(dict(x=t, y=py(y), xref="x3", yref="paper", text=s, showarrow=False,
                    font=dict(size=size, color=color), xanchor="center", yanchor="middle"))


for t0, t1 in water_periods:
    period_arrow(t0, t1, 187, "#29ABE2")
for s, t in water_labels:
    period_text(t, 170, s, "#5BB8EA")
period_text(1.3, 170, "HR水", "#5BB8EA")

for t0, t1 in rotation_periods:
    period_arrow(t0, t1, 222, "#00B050")
for s, t in rotation_labels:
    period_text(t, 212, s, "#3BAA55" if "rpm" in s else "#86C98E")
period_text(1.6, 212, "回転", "#86C98E")

for t0, t1 in kerosene_periods:
    period_arrow(t0, t1, 262, "#FF0000")
for s, t in kerosene_labels:
    period_text(t, 243, s, "#FF2020" if "cc" in s else "#F07B7B")
period_text(1.3, 243, "灯油", "#F07B7B")

for t, color, top, bottom in switch_marks:
    shapes.append(dict(type="line", xref="x3", yref="paper", x0=t, x1=t, y0=py(top), y1=py(bottom),
                       line=dict(color=color, width=3.5, dash="dot")))

# ---- call-out ----
BLUE = "#0000FF"


def poly(points):
    path = "M " + " L ".join(f"{px(x):.5f},{py(y):.5f}" for x, y in points) + " Z"
    shapes.append(dict(type="path", xref="paper", yref="paper", path=path, fillcolor=BLUE,
                       line=dict(width=0, color=BLUE)))


poly([(568, 542), (701, 659), (806, 659)])
poly([(1508, 579), (1040, 659), (1235, 659)])
box(581, 658, 1360, 725, BLUE, BLUE, 0)
text(972, 696, "<b>✓水素発生(赤線グラフ)を確認</b>", 45, "white", family="Noto Sans CJK JP, sans-serif")

fig.update_layout(shapes=shapes, annotations=ann)
fig.write_html("out.html")
